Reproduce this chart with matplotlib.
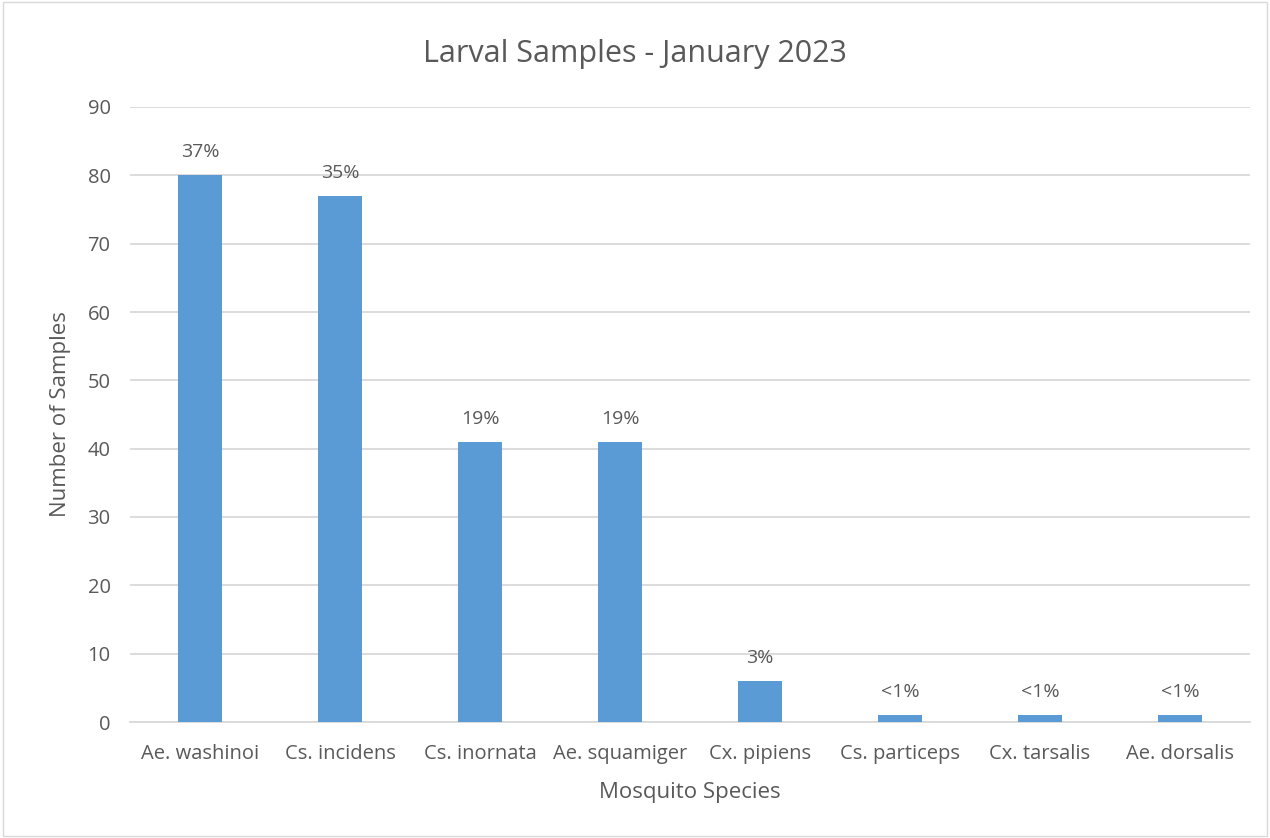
import matplotlib
matplotlib.use("Agg")
import matplotlib.pyplot as plt
from matplotlib.patches import Rectangle

species = ["Ae. washinoi", "Cs. incidens", "Cs. inornata", "Ae. squamiger",
           "Cx. pipiens", "Cs. particeps", "Cx. tarsalis", "Ae. dorsalis"]
counts = [80, 77, 41, 41, 6, 1, 1, 1]
pct_labels = ["37%", "35%", "19%", "19%", "3%", "<1%", "<1%", "<1%"]
yticks = [0, 10, 20, 30, 40, 50, 60, 70, 80, 90]

plt.rcParams['font.family'] = ['Open Sans', 'DejaVu Sans']
txt = '#595959'

fig = plt.figure(figsize=(12.7, 8.38), dpi=100)
ax = fig.add_axes([130/1270, 1-722/838, 1120/1270, 615/838])

x = list(range(len(species)))
ax.bar(x, counts, width=0.315, color='#5B9BD5', zorder=3)
for xi, c, lab in zip(x, counts, pct_labels):
    ax.annotate(lab, (xi, c), xytext=(0, 10), textcoords='offset points',
                ha='center', va='bottom', fontsize=14, color=txt)

ax.set_xlim(-0.5, len(species) - 0.5)
ax.set_ylim(0, 90)
ax.set_yticks(yticks)
ax.set_xticks(x)
ax.set_xticklabels(species)
ax.tick_params(axis='both', length=0, labelsize=14.5, colors=txt)
ax.tick_params(axis='y', pad=14)
ax.tick_params(axis='x', pad=16)
ax.grid(axis='y', color='#D9D9D9', linewidth=1.3, zorder=0)
for s in ['top', 'right', 'left']:
    ax.spines[s].set_visible(False)
ax.spines['bottom'].set_color('#D9D9D9')
ax.spines['bottom'].set_linewidth(1.3)

ax.set_xlabel("Mosquito Species", fontsize=16, color=txt, labelpad=13)
ax.set_ylabel("Number of Samples", fontsize=16, color=txt, labelpad=12)
fig.text(0.5, 1-54/838, "Larval Samples - January 2023", ha='center', va='center',
         fontsize=22, color=txt)

fig.patches.append(Rectangle((0.002, 0.002), 0.996, 0.996, transform=fig.transFigure,
                             fill=False, edgecolor='#D9D9D9', linewidth=1))

fig.savefig("out.png", dpi=100)
